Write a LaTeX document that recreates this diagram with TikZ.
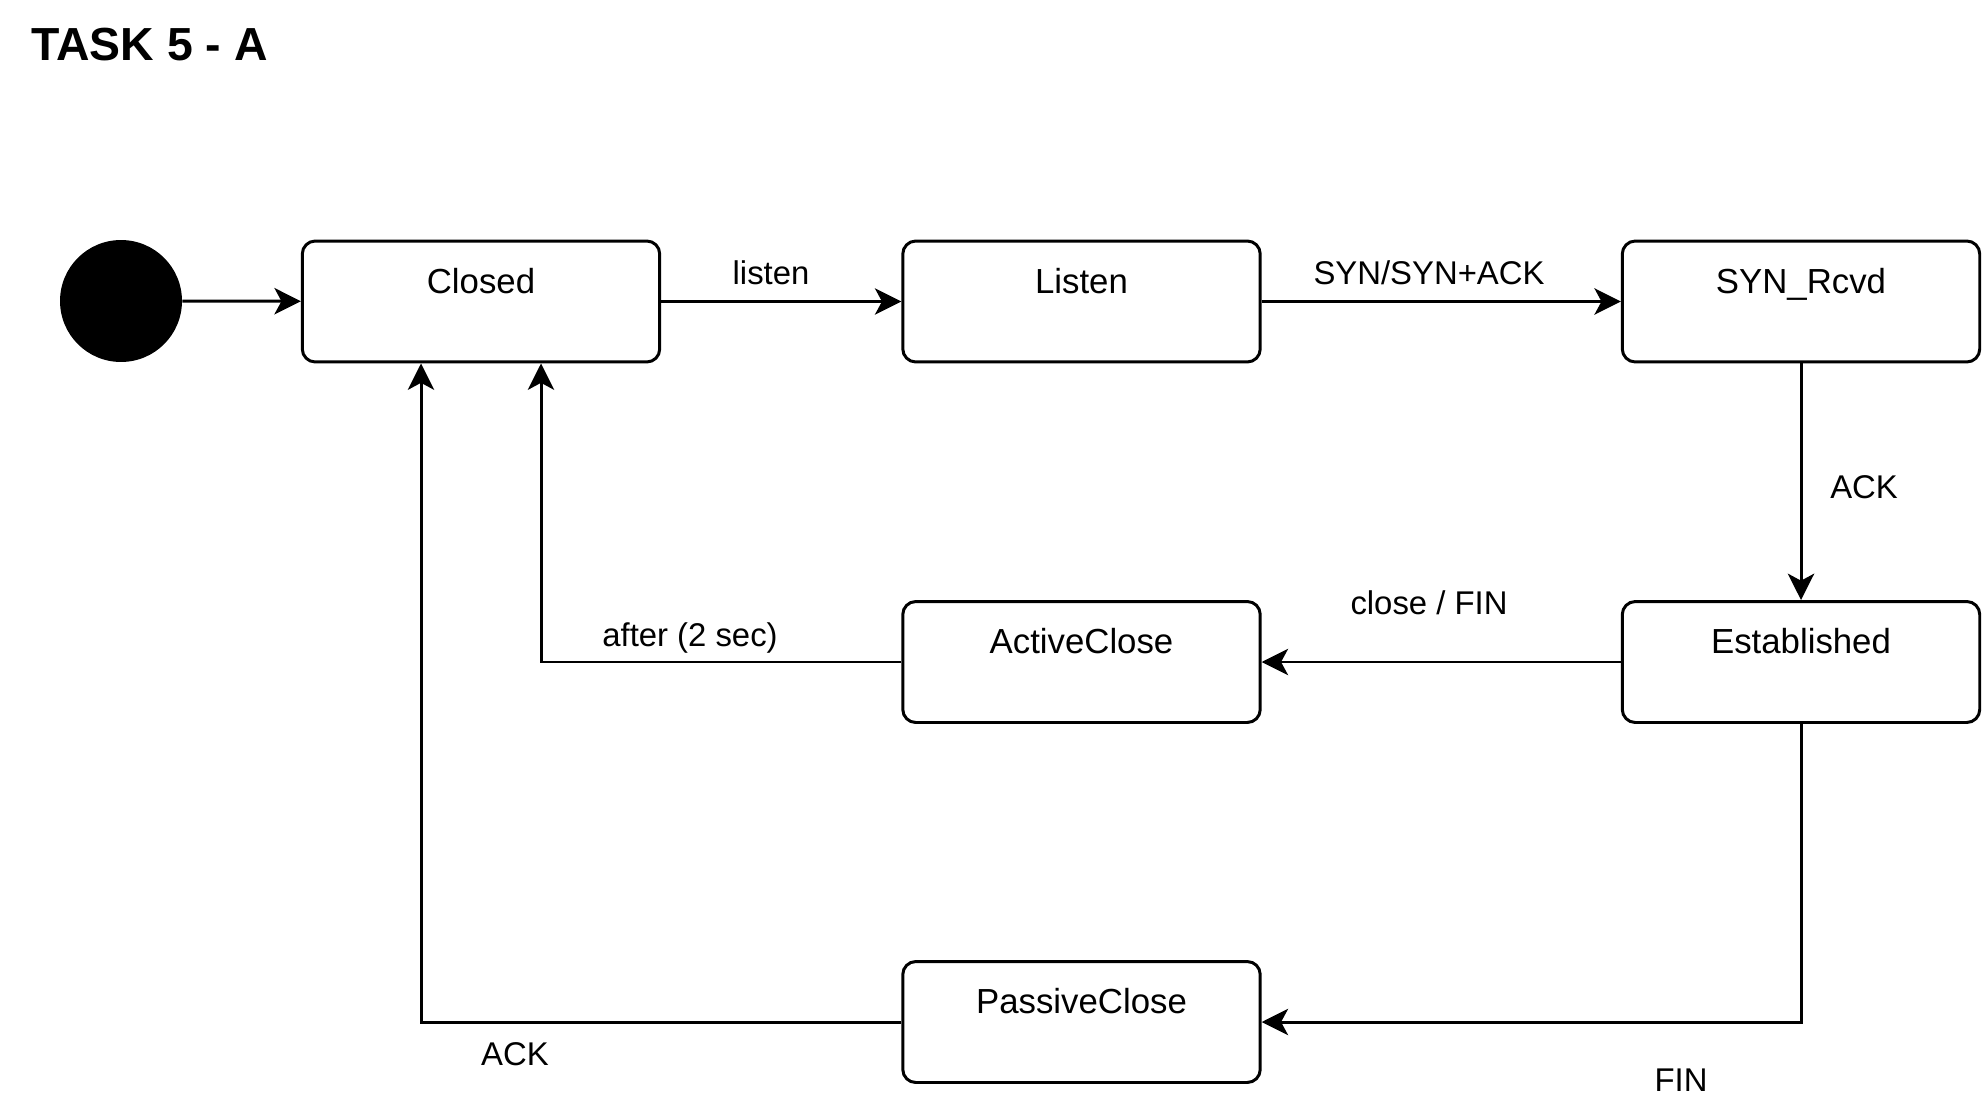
\documentclass[tikz,border=0pt]{standalone}
\usepackage{fontspec}
\setmainfont{Liberation Sans}
\usetikzlibrary{arrows.meta,positioning,calc}
\tikzstyle{state}=[draw,line width=1.7pt,rounded corners=0.26cm,minimum width=7.15cm,inner xsep=0pt,inner ysep=0pt,text height=1.04cm,text depth=1.38cm,font=\fontsize{19.8}{24}\selectfont]
\tikzstyle{startdot}=[fill,shape=circle,minimum size=2.44cm,inner sep=0pt]
\tikzstyle{trans}=[line width=1.7pt,-{Stealth[length=15pt,width=15pt,inset=4pt]}]
\tikzstyle{lbl}=[anchor=base,inner sep=0pt,font=\fontsize{18.7}{22}\selectfont]

\begin{document}
\begin{tikzpicture}[x=0.02cm, y=-0.02cm]
	\useasboundingbox (0,0) rectangle (1983,1101);

	\node[anchor=base west,inner sep=0pt,font=\bfseries\fontsize{26.4}{30}\selectfont] (title) at (31,61) {TASK 5 - A};

	\node[startdot] (start) at (121,301) {};
	\node[state] (closed) at (481,301.5) {Closed};
	\node[state] (listen) at (1081.5,301.5) {Listen};
	\node[state] (synrcvd) at (1801,301.5) {SYN\_Rcvd};
	\node[state] (established) at (1801,662) {Established};
	\node[state] (activeclose) at (1081.5,662) {ActiveClose};
	\node[state] (passiveclose) at (1081.5,1022) {PassiveClose};

	\node[lbl] (lbllisten) at (771,285) {listen};
	\node[lbl] (lblsyn) at (1429,285) {SYN/SYN+ACK};
	\node[lbl] (lblack1) at (1864,498) {ACK};
	\node[lbl] (lblclose) at (1429,614) {close / FIN};
	\node[lbl] (lblafter) at (690,646) {after (2 sec)};
	\node[lbl] (lblack2) at (515,1065) {ACK};
	\node[lbl] (lblfin) at (1681,1091) {FIN};

	\draw[trans] (start) -- (closed);
	\draw[trans] (closed) -- (listen);
	\draw[trans] (listen) -- (synrcvd);
	\draw[trans] (synrcvd) -- (established);
	\draw[trans] (established) -- (activeclose);
	\draw[trans] (activeclose) -| ($(closed.south)+(60,0)$);
	\draw[trans] (established) |- (passiveclose);
	\draw[trans] (passiveclose) -| ($(closed.south)+(-60,0)$);

\end{tikzpicture}
\end{document}
